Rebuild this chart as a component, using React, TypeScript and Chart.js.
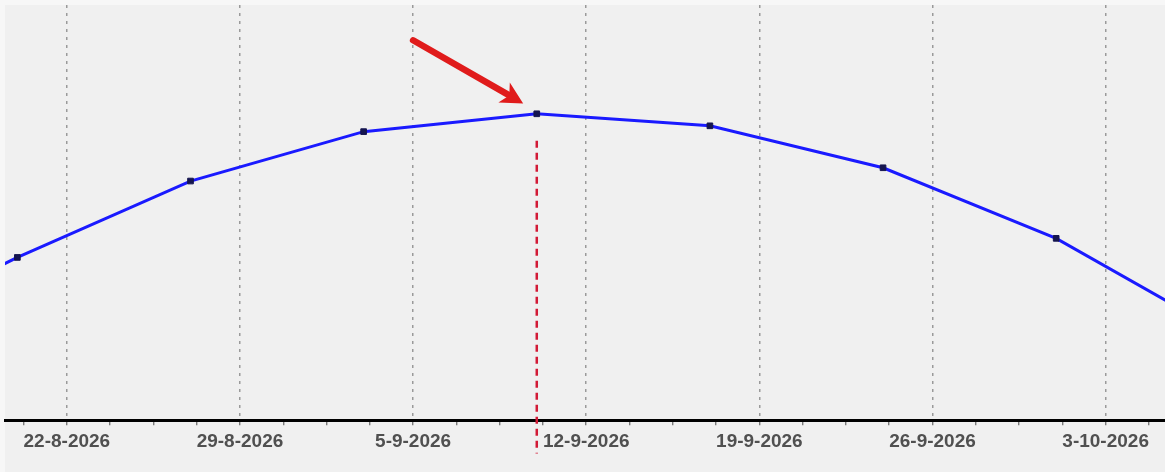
import React, { useEffect, useRef } from "react";
import { Chart, registerables } from "chart.js";

Chart.register(...registerables);

// x values are days counted from 22-8-2026
const TICK_DAYS = [0, 7, 14, 21, 28, 35, 42];
const TICK_LABELS = ["22-8-2026", "29-8-2026", "5-9-2026", "12-9-2026", "19-9-2026", "26-9-2026", "3-10-2026"];
const POINT_DAYS = [-9, -2, 5, 12, 19, 26, 33, 40, 47];
const POINT_VALUES = [18.9, 39.2, 57.6, 69.5, 73.8, 70.9, 60.8, 43.8, 20.2];
const PEAK_DAY = 19;
const PEAK_LINE_TOP = 67.3;
const PEAK_LINE_BOTTOM = -8;
const ARROW_FROM = [14, 91.5];
const ARROW_TO = [18.45, 76.3];
const X_MIN = -2.5;
const X_MAX = 44.4;
const Y_MIN = 0;
const Y_MAX = 100;
const MINOR_STEP = 1.75;

const majorIndex = (v: number) => TICK_DAYS.findIndex((d) => Math.abs(d - v) < 1e-6);

const backgroundPlugin = {
  id: "bg",
  beforeDraw(chart: any) {
    const { ctx, chartArea, width, height } = chart;
    ctx.save();
    ctx.fillStyle = "#f7f7f7";
    ctx.fillRect(0, 0, width, height);
    ctx.fillStyle = "#f0f0f0";
    ctx.fillRect(chartArea.left, chartArea.top, width - chartArea.left, height - chartArea.top);
    ctx.restore();
  },
};

const annotationPlugin = {
  id: "annot",
  afterDatasetsDraw(chart: any) {
    const { ctx } = chart;
    const xs = chart.scales.x;
    const ys = chart.scales.y;
    ctx.save();
    // red dashed marker line
    const px = xs.getPixelForValue(PEAK_DAY);
    ctx.strokeStyle = "#d21a36";
    ctx.lineWidth = 2.5;
    ctx.setLineDash([7, 5]);
    ctx.beginPath();
    ctx.moveTo(px, ys.getPixelForValue(PEAK_LINE_TOP));
    ctx.lineTo(px, ys.getPixelForValue(PEAK_LINE_BOTTOM));
    ctx.stroke();
    ctx.setLineDash([]);
    // arrow
    const x1 = xs.getPixelForValue(ARROW_FROM[0]);
    const y1 = ys.getPixelForValue(ARROW_FROM[1]);
    const x2 = xs.getPixelForValue(ARROW_TO[0]);
    const y2 = ys.getPixelForValue(ARROW_TO[1]);
    const ang = Math.atan2(y2 - y1, x2 - x1);
    const headLen = 22;
    const headHalf = 11.5;
    const c = Math.cos(ang);
    const s = Math.sin(ang);
    const bx = x2 - headLen * c;
    const by = y2 - headLen * s;
    ctx.strokeStyle = "#e01b1b";
    ctx.fillStyle = "#e01b1b";
    ctx.lineWidth = 6.5;
    ctx.lineCap = "round";
    ctx.beginPath();
    ctx.moveTo(x1, y1);
    ctx.lineTo(bx + 6 * c, by + 6 * s);
    ctx.stroke();
    ctx.beginPath();
    ctx.moveTo(x2, y2);
    ctx.lineTo(bx + headHalf * s, by - headHalf * c);
    ctx.lineTo(bx + 6 * c, by + 6 * s);
    ctx.lineTo(bx - headHalf * s, by + headHalf * c);
    ctx.closePath();
    ctx.fill();
    ctx.restore();
  },
};

export default function App() {
  const ref = useRef<HTMLCanvasElement | null>(null);
  useEffect(() => {
    document.body.style.margin = "0";
    const canvas = ref.current;
    if (!canvas) return;
    const chart = new Chart(canvas, {
      type: "line",
      data: {
        datasets: [
          {
            data: POINT_DAYS.map((d, i) => ({ x: d, y: POINT_VALUES[i] })),
            borderColor: "#1a1aff",
            borderWidth: 3,
            tension: 0,
            pointStyle: "rect",
            pointRadius: 4,
            pointBackgroundColor: "#15154f",
            pointBorderColor: "#15154f",
            pointBorderWidth: 1,
          },
        ],
      },
      options: {
        responsive: false,
        animation: false,
        events: [],
        layout: { autoPadding: false, padding: { left: 5, top: 5, right: 0, bottom: 14 } },
        plugins: { legend: { display: false }, tooltip: { enabled: false } },
        scales: {
          x: {
            type: "linear",
            min: X_MIN,
            max: X_MAX,
            border: { display: true, color: "#000", width: 3, dash: [3, 5] },
            grid: {
              color: (c: any) => (majorIndex(c.tick.value) >= 0 ? "#9a9a9a" : "rgba(0,0,0,0)"),
              lineWidth: 1.5,
              drawTicks: true,
              tickLength: 5,
              tickColor: "#666",
              tickWidth: 1.2,
            },
            ticks: {
              stepSize: MINOR_STEP,
              includeBounds: false,
              autoSkip: false,
              maxRotation: 0,
              maxTicksLimit: 200,
              padding: 5,
              color: "#505050",
              font: { family: "Arial, 'Liberation Sans', sans-serif", size: 19, weight: "bold" },
              callback: (v: any) => {
                const i = majorIndex(Number(v));
                return i >= 0 ? TICK_LABELS[i] : "";
              },
            },
          },
          y: {
            display: false,
            min: Y_MIN,
            max: Y_MAX,
          },
        },
      },
      plugins: [backgroundPlugin, annotationPlugin],
    } as any);
    return () => chart.destroy();
  }, []);
  return (
    <div style={{ width: 1165, height: 472 }}>
      <canvas ref={ref} width={1165} height={472} />
    </div>
  );
}
